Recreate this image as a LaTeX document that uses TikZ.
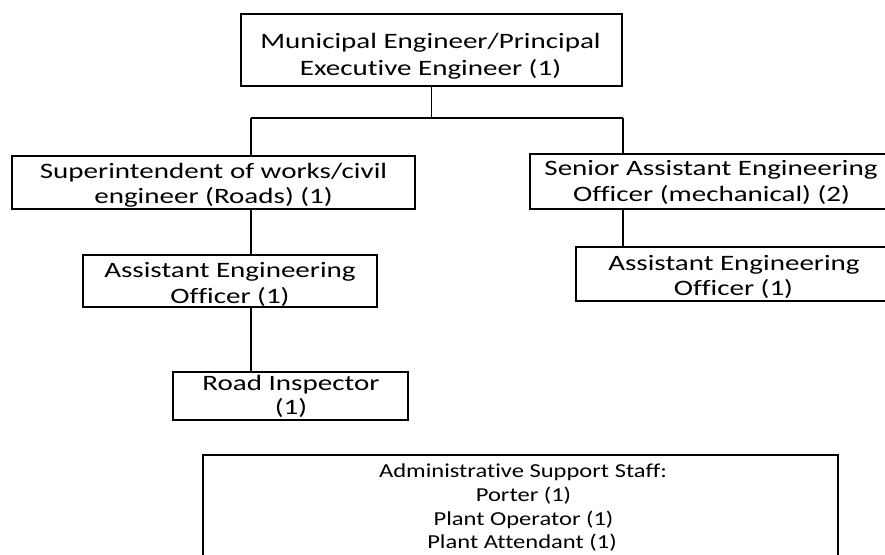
\documentclass[tikz,border=0pt]{standalone}
\usepackage{fontspec}
\setmainfont[FakeStretch=1.32, Ligatures={NoCommon}]{Carlito}
\newfontfamily\adminfont[FakeStretch=1.24, Ligatures={NoCommon}]{Carlito}
\tikzset{
  box/.style={draw=black, line width=1.2pt, rectangle, inner sep=0pt},
  txt/.style={anchor=base, inner sep=0pt, font=\fontsize{22}{27}\selectfont},
  atxt/.style={anchor=base, inner sep=0pt, font=\adminfont\fontsize{19.8}{24}\selectfont},
  conn/.style={draw=black, line width=1.2pt}
}
\begin{document}
\begin{tikzpicture}[x=1pt, y=-1pt]
\clip (0,0) rectangle (885,554);
\fill[white] (0,0) rectangle (885,554);
% boxes
\node[box, minimum width=381pt, minimum height=72pt] (top) at (431.5,50) {};
\node[box, minimum width=403pt, minimum height=53pt] (sup) at (213.5,182.5) {};
\node[box, minimum width=294pt, minimum height=52pt] (aeo) at (230,281) {};
\node[box, minimum width=235pt, minimum height=48pt] (road) at (290.5,396) {};
\node[box, minimum width=370pt, minimum height=55pt] (sen) at (715,181.5) {};
\node[box, minimum width=324pt, minimum height=54pt] (aeotwo) at (738,274) {};
\node[box, minimum width=635pt, minimum height=145pt] (admin) at (520.5,527.5) {};
% texts
\node[txt] (topa) at (430.5,48) {Municipal Engineer/Principal};
\node[txt] (topb) at (430.5,75) {Executive Engineer (1)};
\node[txt] (supa) at (213.5,178) {Superintendent of works/civil};
\node[txt] (supb) at (213.5,203) {engineer (Roads) (1)};
\node[txt] (aeoa) at (230,277) {Assistant Engineering};
\node[txt] (aeob) at (230,303) {Officer (1)};
\node[txt] (roada) at (291,390) {Road Inspector};
\node[txt] (roadb) at (291,414.5) {(1)};
\node[txt] (sena) at (711,175.5) {Senior Assistant Engineering};
\node[txt] (senb) at (711.5,201.5) {Officer (mechanical) (2)};
\node[txt] (aeotwoa) at (734,270) {Assistant Engineering};
\node[txt] (aeotwob) at (733.5,295) {Officer (1)};
\node[atxt] (adma) at (523,477) {Administrative Support Staff:};
\node[atxt] (admb) at (523.5,501) {Porter (1)};
\node[atxt] (admc) at (523.5,525) {Plant Operator (1)};
\node[atxt] (admd) at (522,548.5) {Plant Attendant (1)};
% connectors
\coordinate (jl) at (251,118);
\coordinate (jr) at (623,118);
\draw[conn] (top.south) -- (top.south |- jl);
\draw[conn] (jl) -- (jr);
\draw[conn] (jl) -- (jl |- sup.north);
\draw[conn] (jr) -- (jr |- sen.north);
\draw[conn] (jl |- sup.south) -- (jl |- aeo.north);
\draw[conn] (jl |- aeo.south) -- (jl |- road.north);
\draw[conn] (jr |- sen.south) -- (jr |- aeotwo.north);
\end{tikzpicture}
\end{document}
